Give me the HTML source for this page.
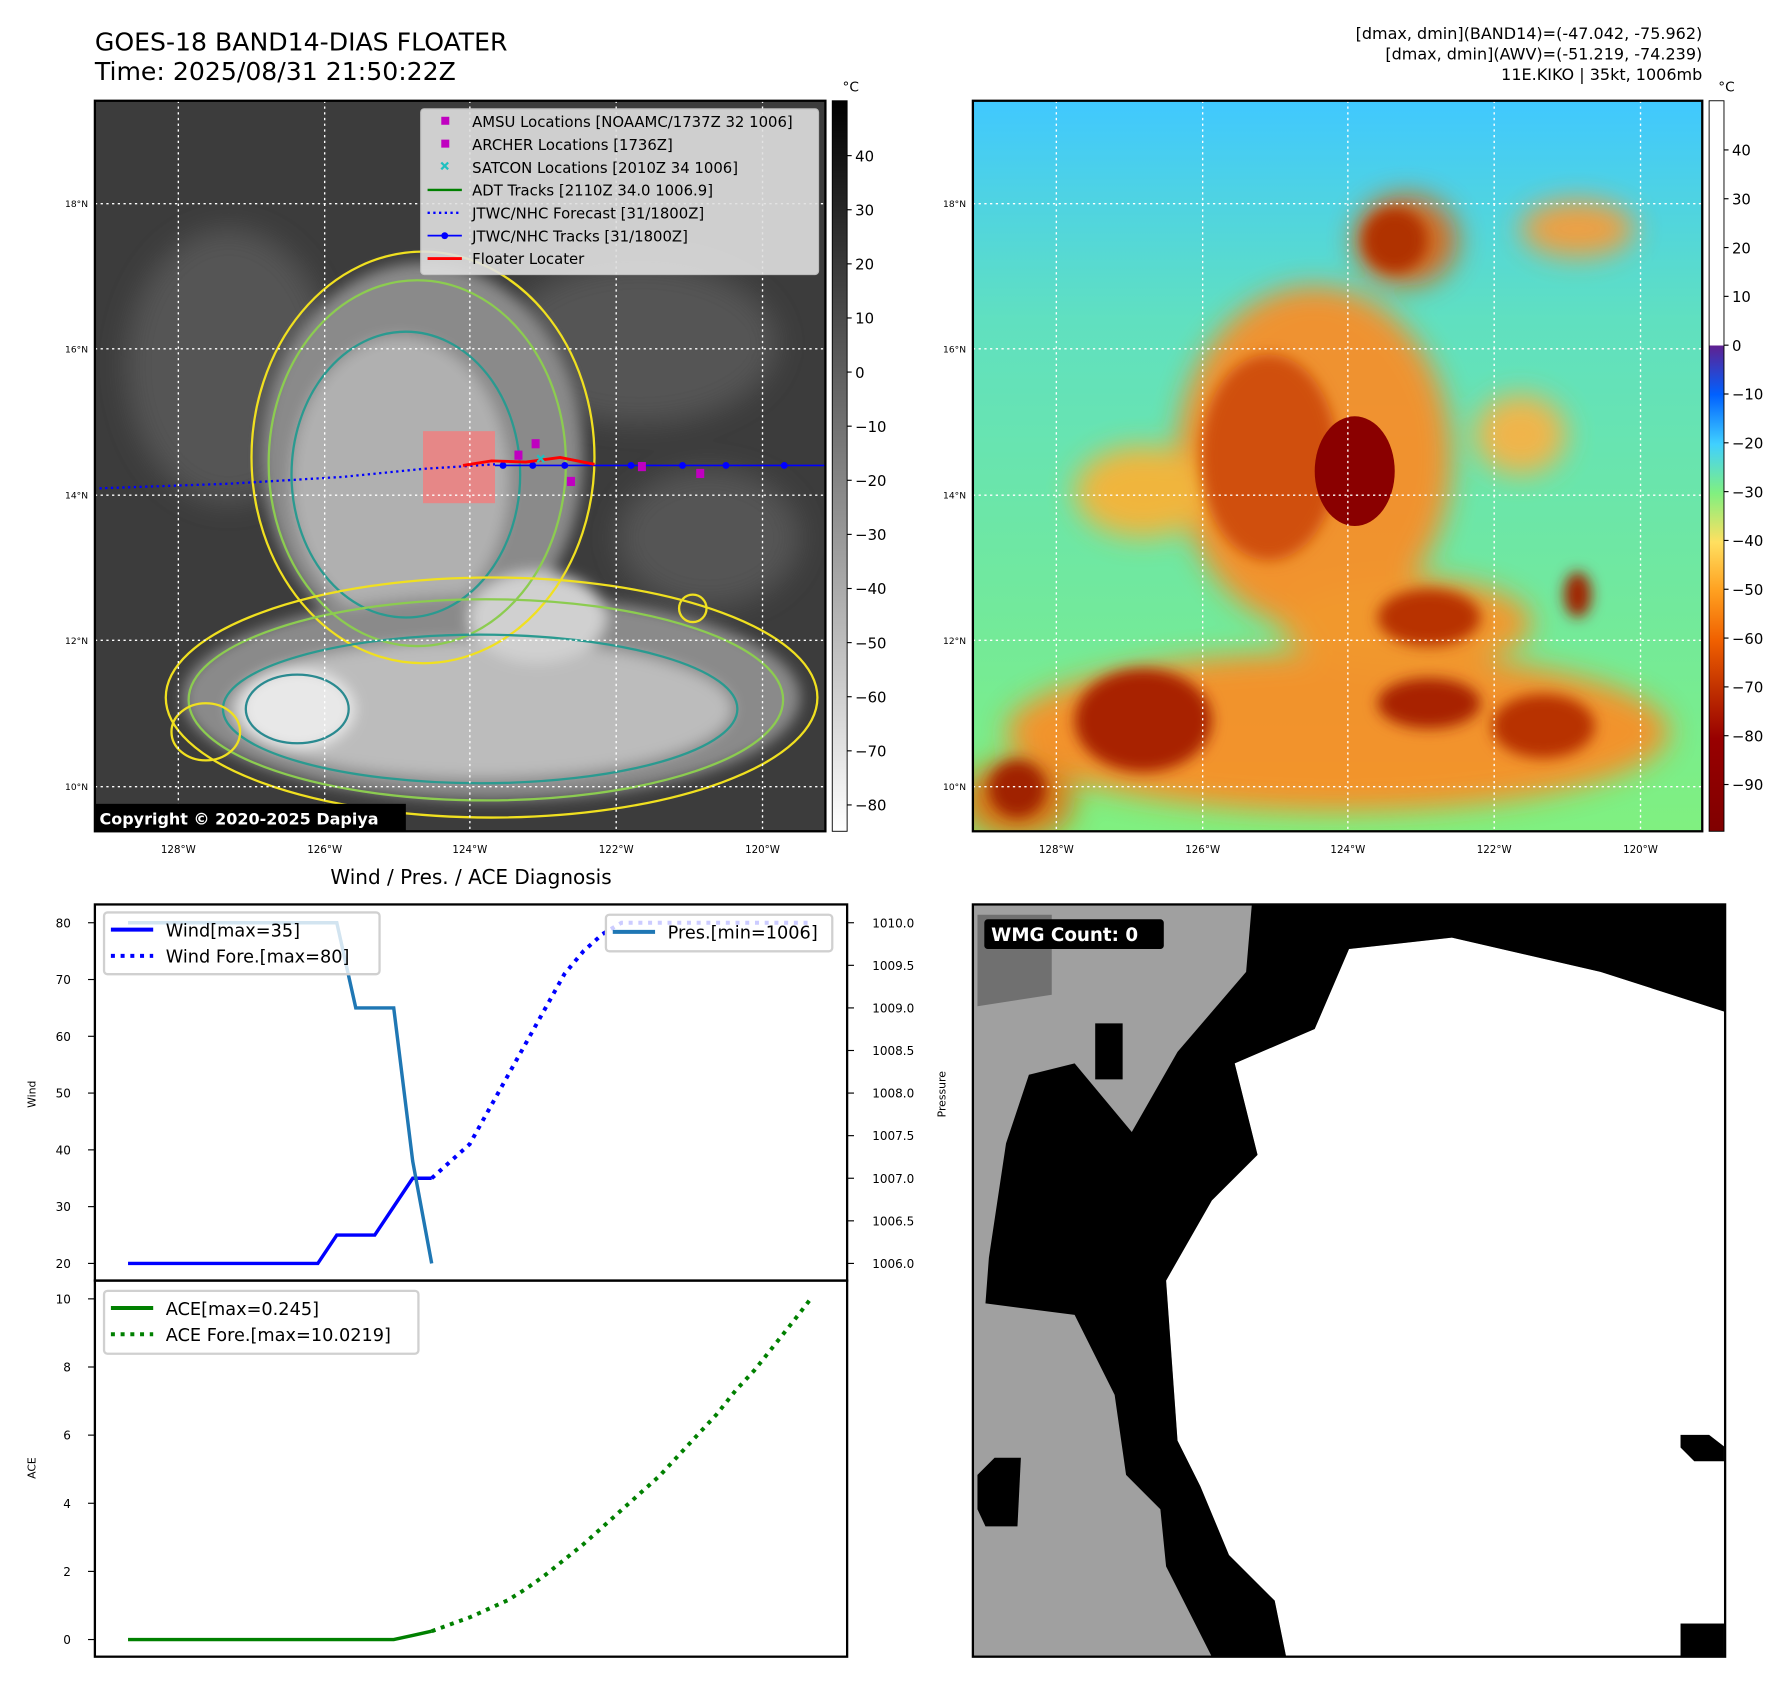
<!DOCTYPE html>
<html><head><meta charset="utf-8"><title>GOES-18 BAND14 DIAS FLOATER</title>
<style>html,body{margin:0;padding:0;background:#fff;}svg{display:block;font-family:"DejaVu Sans","Liberation Sans",sans-serif;}</style></head>
<body>
<svg id="root" width="1788" height="1690" viewBox="0 0 1564 1478" xmlns="http://www.w3.org/2000/svg">
<defs>
<filter id="b6" x="-30%" y="-30%" width="160%" height="160%"><feGaussianBlur stdDeviation="6"/></filter>
<filter id="b12" x="-30%" y="-30%" width="160%" height="160%"><feGaussianBlur stdDeviation="12"/></filter>
<linearGradient id="cbGray" x1="0" y1="1" x2="0" y2="0"><stop offset="0" stop-color="#fff"/><stop offset="1" stop-color="#000"/></linearGradient>
<linearGradient id="cbCol" x1="0" y1="1" x2="0" y2="0">
<stop offset="0" stop-color="#800000"/><stop offset="0.127" stop-color="#980000"/><stop offset="0.194" stop-color="#c03000"/><stop offset="0.261" stop-color="#f06000"/><stop offset="0.329" stop-color="#ffa020"/><stop offset="0.396" stop-color="#ffe060"/><stop offset="0.463" stop-color="#80f080"/><stop offset="0.53" stop-color="#40d0ff"/><stop offset="0.598" stop-color="#0060ff"/><stop offset="0.665" stop-color="#602090"/><stop offset="0.665" stop-color="#fff"/><stop offset="1" stop-color="#fff"/></linearGradient>
<linearGradient id="rbg" x1="0" y1="0" x2="0" y2="1"><stop offset="0" stop-color="#40c8ff"/><stop offset="0.3" stop-color="#60e0c0"/><stop offset="1" stop-color="#80f080"/></linearGradient>
<clipPath id="clipL"><rect x="83" y="88" width="639" height="639"/></clipPath>
<clipPath id="clipR"><rect x="851" y="88" width="638" height="639"/></clipPath>
</defs>

<text x="83" y="44" font-size="22">GOES-18 BAND14-DIAS FLOATER</text>
<text x="83" y="70" font-size="22">Time: 2025/08/31 21:50:22Z</text>
<g font-size="14" text-anchor="end">
<text x="1489" y="34">[dmax, dmin](BAND14)=(-47.042, -75.962)</text>
<text x="1489" y="52">[dmax, dmin](AWV)=(-51.219, -74.239)</text>
<text x="1489" y="70">11E.KIKO | 35kt, 1006mb</text>
</g>

<g clip-path="url(#clipL)">
<rect x="83" y="88" width="639" height="639" fill="#3c3c3c"/>
<g filter="url(#b12)" fill="#555">
<ellipse cx="200" cy="320" rx="90" ry="120"/><ellipse cx="560" cy="300" rx="120" ry="70"/><ellipse cx="620" cy="470" rx="80" ry="60"/>
</g>
<g filter="url(#b6)">
<ellipse cx="370" cy="400" rx="140" ry="170" fill="#8a8a8a"/>
<ellipse cx="350" cy="420" rx="95" ry="125" fill="#b0b0b0"/>
<ellipse cx="430" cy="610" rx="270" ry="90" fill="#8a8a8a"/>
<ellipse cx="420" cy="620" rx="220" ry="60" fill="#bcbcbc"/>
<ellipse cx="260" cy="620" rx="50" ry="35" fill="#e8e8e8"/>
<ellipse cx="470" cy="540" rx="60" ry="40" fill="#d0d0d0"/>
</g>
<g fill="none" stroke-width="2">
<ellipse cx="370" cy="400" rx="150" ry="180" stroke="#f0e020"/>
<ellipse cx="365" cy="405" rx="130" ry="160" stroke="#8ccc50"/>
<ellipse cx="355" cy="415" rx="100" ry="125" stroke="#2a9a90"/>
<ellipse cx="430" cy="610" rx="285" ry="105" stroke="#f0e020"/>
<ellipse cx="425" cy="612" rx="260" ry="88" stroke="#8ccc50"/>
<ellipse cx="420" cy="620" rx="225" ry="65" stroke="#2a9a90"/>
<ellipse cx="260" cy="620" rx="45" ry="30" stroke="#2a8a90"/>
<ellipse cx="606" cy="532" rx="12" ry="12" stroke="#f0e020"/>
<ellipse cx="180" cy="640" rx="30" ry="25" stroke="#f0e020"/>
</g>
<rect x="370" y="377" width="63" height="63" fill="#f08080" opacity="0.85"/>
<line x1="433" y1="407" x2="722" y2="407" stroke="#0000ff" stroke-width="1.5"/>
<g fill="#0000ff"><circle cx="440" cy="407" r="3"/><circle cx="466" cy="407" r="3"/><circle cx="494" cy="407" r="3"/><circle cx="552" cy="407" r="3"/><circle cx="597" cy="407" r="3"/><circle cx="635" cy="407" r="3"/><circle cx="686" cy="407" r="3"/></g>
<path d="M87 427 L200 423 L300 417 L370 410 L433 406" fill="none" stroke="#0000ff" stroke-width="2" stroke-dasharray="2,3"/>
<path d="M405 407 L430 403 L460 404 L490 400 L520 406" fill="none" stroke="#ff0000" stroke-width="2.5"/>
<g fill="#c000c0"><rect x="450" y="394" width="7" height="8"/><rect x="465" y="384" width="7" height="8"/><rect x="496" y="417" width="7" height="8"/><rect x="558" y="404" width="7" height="8"/><rect x="609" y="410" width="7" height="8"/></g>
<g stroke="#20c0c0" stroke-width="2"><path d="M470 398l6 6M476 398l-6 6"/></g>
<g stroke="#fff" stroke-width="1.2" stroke-dasharray="2,3">
<line x1="156" y1="88" x2="156" y2="727"/><line x1="284" y1="88" x2="284" y2="727"/><line x1="411" y1="88" x2="411" y2="727"/><line x1="539" y1="88" x2="539" y2="727"/><line x1="667" y1="88" x2="667" y2="727"/>
<line x1="83" y1="178" x2="722" y2="178"/><line x1="83" y1="305" x2="722" y2="305"/><line x1="83" y1="433" x2="722" y2="433"/><line x1="83" y1="560" x2="722" y2="560"/><line x1="83" y1="688" x2="722" y2="688"/>
</g>
<rect x="83" y="703" width="272" height="24" fill="#000"/>
<text x="87" y="721" font-size="14" font-weight="bold" fill="#fff">Copyright © 2020-2025 Dapiya</text>
</g>
<rect x="83" y="88" width="639" height="639" fill="none" stroke="#000" stroke-width="2"/>

<g>
<rect x="368" y="95" width="348" height="145" fill="#e0e0e0" opacity="0.9" stroke="#ccc" rx="3"/>
<g font-size="13">
<rect x="386" y="102" width="7" height="7" fill="#c000c0"/><text x="413" y="111">AMSU Locations [NOAAMC/1737Z 32 1006]</text>
<rect x="386" y="122" width="7" height="7" fill="#c000c0"/><text x="413" y="131">ARCHER Locations [1736Z]</text>
<path d="M386 142l6 6M392 142l-6 6" stroke="#20c0c0" stroke-width="2"/><text x="413" y="151">SATCON Locations [2010Z 34 1006]</text>
<line x1="374" y1="166" x2="404" y2="166" stroke="#008000" stroke-width="2"/><text x="413" y="171">ADT Tracks [2110Z 34.0 1006.9]</text>
<line x1="374" y1="186" x2="404" y2="186" stroke="#0000ff" stroke-width="2" stroke-dasharray="2,3"/><text x="413" y="191">JTWC/NHC Forecast [31/1800Z]</text>
<line x1="374" y1="206" x2="404" y2="206" stroke="#0000ff" stroke-width="1.5"/><circle cx="389" cy="206" r="3" fill="#0000ff"/><text x="413" y="211">JTWC/NHC Tracks [31/1800Z]</text>
<line x1="374" y1="226" x2="404" y2="226" stroke="#ff0000" stroke-width="2.5"/><text x="413" y="231">Floater Locater</text>
</g></g>

<g>
<rect x="728" y="88" width="13" height="639" fill="url(#cbGray)" stroke="#000" stroke-width="0.8"/>
<text x="737" y="80" font-size="12" >°C</text>
<g id="cb1" font-size="13"></g>
</g>

<g clip-path="url(#clipR)">
<rect x="851" y="88" width="638" height="639" fill="url(#rbg)"/>
<g filter="url(#b12)" opacity="0.9">
<ellipse cx="1150" cy="400" rx="120" ry="150" fill="#ff8a20"/>
<ellipse cx="1000" cy="430" rx="60" ry="40" fill="#ffb030"/>
<ellipse cx="1170" cy="640" rx="290" ry="70" fill="#ff8a20"/>
<ellipse cx="1230" cy="545" rx="110" ry="40" fill="#ff9020"/>
<ellipse cx="1230" cy="210" rx="45" ry="40" fill="#e06010"/>
<ellipse cx="1380" cy="200" rx="50" ry="25" fill="#ff9a30"/>
<ellipse cx="1330" cy="380" rx="40" ry="35" fill="#ffb040"/>
<ellipse cx="890" cy="700" rx="50" ry="35" fill="#e07010"/>
</g>
<g filter="url(#b6)">
<ellipse cx="1110" cy="400" rx="60" ry="90" fill="#d05010"/>
<ellipse cx="1000" cy="630" rx="60" ry="45" fill="#a82000"/>
<ellipse cx="1250" cy="540" rx="45" ry="25" fill="#b83000"/>
<ellipse cx="1250" cy="615" rx="45" ry="22" fill="#a82000"/>
<ellipse cx="1350" cy="635" rx="45" ry="28" fill="#b83000"/>
<ellipse cx="1220" cy="210" rx="28" ry="28" fill="#b03000"/>
<ellipse cx="890" cy="690" rx="25" ry="25" fill="#a02000"/>
<ellipse cx="1380" cy="520" rx="12" ry="20" fill="#a02000"/>
</g>
<ellipse cx="1185" cy="412" rx="35" ry="48" fill="#8a0000"/>
<g stroke="#fff" stroke-width="1.2" stroke-dasharray="2,3">
<line x1="924" y1="88" x2="924" y2="727"/><line x1="1052" y1="88" x2="1052" y2="727"/><line x1="1179" y1="88" x2="1179" y2="727"/><line x1="1307" y1="88" x2="1307" y2="727"/><line x1="1435" y1="88" x2="1435" y2="727"/>
<line x1="851" y1="178" x2="1489" y2="178"/><line x1="851" y1="305" x2="1489" y2="305"/><line x1="851" y1="433" x2="1489" y2="433"/><line x1="851" y1="560" x2="1489" y2="560"/><line x1="851" y1="688" x2="1489" y2="688"/>
</g></g>
<rect x="851" y="88" width="638" height="639" fill="none" stroke="#000" stroke-width="2"/>
<g>
<rect x="1495" y="88" width="13" height="639" fill="url(#cbCol)" stroke="#000" stroke-width="0.8"/>
<text x="1503" y="80" font-size="12">°C</text>
<g id="cb2" font-size="13"></g>
</g>

<g id="mapTicks" font-size="9"></g>

<text x="412" y="773" font-size="17.5" text-anchor="middle">Wind / Pres. / ACE Diagnosis</text>
<g id="chart"></g>

<g>
<rect x="851" y="791" width="658" height="658" fill="#a0a0a0"/>
<polygon points="855,800 920,800 920,870 855,880" fill="#707070"/>
<polygon fill="#fff" points="1180,830 1270,820 1400,850 1509,885 1509,1449 1125,1449 1115,1400 1075,1360 1050,1300 1030,1260 1020,1120 1060,1050 1100,1010 1080,930 1150,900"/>
<polygon fill="#000" points="1095,791 1509,791 1509,885 1400,850 1270,820 1180,830 1150,900 1080,930 1100,1010 1060,1050 1020,1120 1030,1260 1050,1300 1075,1360 1115,1400 1125,1449 1060,1449 1020,1370 1015,1320 985,1290 975,1220 940,1150 862,1140 865,1100 880,1000 900,940 940,930 990,990 1030,920 1090,850"/>
<polygon fill="#000" points="855,1290 870,1275 893,1275 890,1335 862,1335 855,1320"/>
<polygon fill="#000" points="958,895 982,895 982,944 958,944"/>
<polygon fill="#000" points="1470,1255 1495,1255 1508,1265 1508,1278 1482,1278 1470,1266"/>
<rect x="1470" y="1420" width="38" height="29" fill="#000"/>
<rect x="851" y="791" width="658" height="658" fill="none" stroke="#000" stroke-width="2"/>
<rect x="861" y="804" width="157" height="26" rx="3" fill="#000"/>
<text x="867" y="823" font-size="16" font-weight="bold" fill="#fff">WMG Count: 0</text>
</g>
</svg>
<script>
const windObs = [20,20,20,20,20,20,20,20,20,20,20,25,25,25,30,35,35];
const windFcst = [35,38,41,47,53,59,65,71,75,78,80,80,80,80,80,80,80,80,80,80,80];
const presObs = [1010,1010,1010,1010,1010,1010,1010,1010,1010,1010,1010,1010,1009,1009,1009,1007.2,1006];
const aceObs = [0,0,0,0,0,0,0,0,0,0,0,0,0,0,0,0.12,0.245];
const aceFcst = [0.245,0.45,0.65,0.9,1.15,1.5,1.9,2.35,2.8,3.3,3.8,4.3,4.8,5.4,6.0,6.6,7.3,7.9,8.6,9.3,10.02];
const windTicks = [20,30,40,50,60,70,80];
const presTicks = [1006.0,1006.5,1007.0,1007.5,1008.0,1008.5,1009.0,1009.5,1010.0];
const aceTicks = [0,2,4,6,8,10];
const cb1Ticks = [40,30,20,10,0,-10,-20,-30,-40,-50,-60,-70,-80];
const cb2Ticks = [40,30,20,10,0,-10,-20,-30,-40,-50,-60,-70,-80,-90];
const lonLabels = ["128°W","126°W","124°W","122°W","120°W"];
const latLabels = ["18°N","16°N","14°N","12°N","10°N"];

const NS="http://www.w3.org/2000/svg";
function mk(tag,attrs,parent,txt){const e=document.createElementNS(NS,tag);for(const k in attrs)e.setAttribute(k,attrs[k]);if(txt!==undefined)e.textContent=txt;parent.appendChild(e);return e;}
const fmtNeg=v=>v<0?"\u2212"+(-v):""+v;
const X=i=>112+i*16.6;
const yW=v=>1105-(v-20)*(298/60);
const yP=p=>1105-(p-1006)*(298/4);
const yA=a=>1434-a*29.8;
const cb1Y=v=>136+(40-v)*4.733;
const cb2Y=v=>131+(40-v)*4.27;

const cb1=document.getElementById('cb1');
cb1Ticks.forEach(v=>{const t=mk('text',{x:748,y:cb1Y(v)+5},cb1,fmtNeg(v));


mk('line',{x1:741,y1:cb1Y(v),x2:745,y2:cb1Y(v),stroke:'#000'},cb1);});
const cb2=document.getElementById('cb2');
cb2Ticks.forEach(v=>{const t=mk('text',{x:1515,y:cb2Y(v)+5},cb2,fmtNeg(v));


mk('line',{x1:1508,y1:cb2Y(v),x2:1512,y2:cb2Y(v),stroke:'#000'},cb2);});

const mt=document.getElementById('mapTicks');
const lonX=[156,284,411,539,667], latY=[178,305,433,560,688];
[0,768].forEach(off=>{
 lonLabels.forEach((l,i)=>{const t=mk('text',{x:lonX[i]+off,y:746,'text-anchor':'middle'},mt,l);
 
 });
 latLabels.forEach((l,i)=>{const t=mk('text',{x:77+off,y:latY[i]+3,'text-anchor':'end','font-size':8},mt,l);
 
 });
});

const ch=document.getElementById('chart');


mk('rect',{x:83,y:791,width:658,height:329,fill:'#fff'},ch);
mk('rect',{x:83,y:1120,width:658,height:329,fill:'#fff'},ch);
function pts(arr,f,start){return arr.map((v,i)=>X(i+start)+','+f(v)).join(' ');}
windTicks.forEach(v=>{mk('line',{x1:77,y1:yW(v),x2:83,y2:yW(v),stroke:'#000'},ch);
const t=mk('text',{x:62,y:yW(v)+4,'text-anchor':'end','font-size':10.5},ch,v);

});
presTicks.forEach(v=>{mk('line',{x1:741,y1:yP(v),x2:747,y2:yP(v),stroke:'#000'},ch);
const t=mk('text',{x:763,y:yP(v)+4,'font-size':10.5},ch,v.toFixed(1));

});
aceTicks.forEach(v=>{mk('line',{x1:77,y1:yA(v),x2:83,y2:yA(v),stroke:'#000'},ch);
const t=mk('text',{x:62,y:yA(v)+4,'text-anchor':'end','font-size':10.5},ch,v);

});
const yl1=mk('text',{x:31,y:957,'font-size':9.5,'text-anchor':'middle',transform:'rotate(-90 31 957)'},ch,'Wind');


const yl2=mk('text',{x:827,y:957,'font-size':9.5,'text-anchor':'middle',transform:'rotate(-90 827 957)'},ch,'Pressure');


const yl3=mk('text',{x:31,y:1284,'font-size':9.5,'text-anchor':'middle',transform:'rotate(-90 31 1284)'},ch,'ACE');


const wo=mk('polyline',{points:pts(windObs,yW,0),fill:'none',stroke:'#0000ff','stroke-width':3},ch);


const wf=mk('polyline',{points:pts(windFcst,yW,16),fill:'none',stroke:'#0000ff','stroke-width':3.5,'stroke-dasharray':'3.5,5'},ch);


const po=mk('polyline',{points:pts(presObs,yP,0),fill:'none',stroke:'#1f77b4','stroke-width':3},ch);


const ao=mk('polyline',{points:pts(aceObs,yA,0),fill:'none',stroke:'#008000','stroke-width':3},ch);


const af=mk('polyline',{points:pts(aceFcst,yA,16),fill:'none',stroke:'#008000','stroke-width':3.5,'stroke-dasharray':'3.5,5'},ch);


mk('rect',{x:83,y:791,width:658,height:329,fill:'none',stroke:'#000','stroke-width':2},ch);
mk('rect',{x:83,y:1120,width:658,height:329,fill:'none',stroke:'#000','stroke-width':2},ch);
function legend(name,x,y,w,h,items){const g=mk('g',{},ch);


mk('rect',{x:x,y:y,width:w,height:h,rx:3,fill:'#fff','fill-opacity':0.8,stroke:'#d0d0d0','stroke-width':2},g);
items.forEach((it,k)=>{const cy=y+15+k*23;mk('line',{x1:x+6,y1:cy,x2:x+43,y2:cy,stroke:it[1],'stroke-width':3.5,'stroke-dasharray':it[2]?'3.5,5':'none'},g);
mk('text',{x:x+54,y:cy+6,'font-size':15.5},g,it[0]);});}
legend('wind-legend',91,798,241,54,[['Wind[max=35]','#0000ff',0],['Wind Fore.[max=80]','#0000ff',1]]);
legend('pressure-legend',530,800,198,32,[['Pres.[min=1006]','#1f77b4',0]]);
legend('ace-legend',91,1129,275,55,[['ACE[max=0.245]','#008000',0],['ACE Fore.[max=10.0219]','#008000',1]]);
</script>
</body></html>
